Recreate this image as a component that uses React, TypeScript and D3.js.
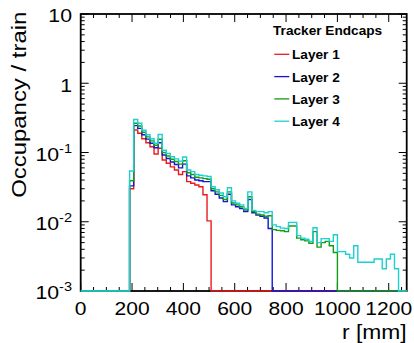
import React from "react";
import * as d3 from "d3";

const W = 414;
const H = 343;

// Histogram binning (r in mm)
const X_MIN = 0;
const X_MAX = 1270;
const BIN_WIDTH = 15.875;
const FIRST_EDGE = 190.5;

const xTickLabels = [0, 200, 400, 600, 800, 1000, 1200];
const yTickValues = [10, 1, 0.1, 0.01, 0.001];
const yTickExps = ["", "", "-1", "-2", "-3"];
const yTickBases = ["10", "1", "10", "10", "10"];

const layerNames = ["Layer 1", "Layer 2", "Layer 3", "Layer 4"];
const layerColors = ["#ea1b1b", "#1414d6", "#159c15", "#1fd0d0"];

const layer1 = [
  0.030, 0.211, 0.19, 0.158, 0.138, 0.121, 0.095, 0.115, 0.078, 0.070,
  0.062, 0.056, 0.048, 0.053, 0.038, 0.036, 0.034, 0.032, 0.0245, 0.0103,
];
const layer2 = [
  0.033, 0.244, 0.223, 0.18, 0.156, 0.136, 0.117, 0.138, 0.092, 0.082,
  0.073, 0.067, 0.060, 0.068, 0.046, 0.043, 0.040, 0.039, 0.038, 0.038,
  0.028, 0.025, 0.022, 0.0195, 0.025, 0.0175, 0.0165, 0.0155, 0.014, 0.021,
  0.0135, 0.0125, 0.012, 0.0113, 0.0080,
];
const layer3 = [
  0.039, 0.264, 0.241, 0.196, 0.168, 0.147, 0.127, 0.155, 0.100, 0.089,
  0.080, 0.074, 0.068, 0.076, 0.051, 0.048, 0.044, 0.043, 0.042, 0.041,
  0.030, 0.027, 0.024, 0.021, 0.027, 0.0187, 0.0175, 0.0165, 0.0148, 0.023,
  0.014, 0.0129, 0.0125, 0.012, 0.0122, 0.0077, 0.0075, 0.0074, 0.0072, 0.0087,
  0.0087, 0.0058, 0.0055, 0.0053, 0.0049, 0.0072, 0.0043, 0.0050, 0.0052, 0.0045,
  0.0036,
];
const layer4 = [
  0.054, 0.30, 0.265, 0.21, 0.18, 0.158, 0.136, 0.182, 0.108, 0.097,
  0.087, 0.081, 0.075, 0.086, 0.056, 0.053, 0.048, 0.047, 0.046, 0.045,
  0.032, 0.029, 0.026, 0.023, 0.031, 0.020, 0.0185, 0.0175, 0.0156, 0.027,
  0.0146, 0.014, 0.014, 0.0135, 0.014, 0.0090, 0.0085, 0.0081, 0.0080, 0.0098,
  0.0098, 0.0063, 0.0058, 0.0056, 0.0052, 0.0082, 0.0050, 0.0057, 0.0057, 0.0052,
  0.0065, 0.0037, 0.0037, 0.0034, 0.0030, 0.0045, 0.0026, 0.0026, 0.0026, 0.0026,
  0.0029, 0.0029, 0.0021, 0.0029, 0.0034, 0.0021,
];
const layers = [layer1, layer2, layer3, layer4];

const Y_MIN = 1e-3;
const Y_MAX = 10;

const PL = 80.7;
const PR = 406.7;
const PT = 14;
const PB = 291;

const FONT = "'Liberation Sans', Arial, Helvetica, sans-serif";

function Txt(props: {
  x: number;
  y: number;
  sx?: number;
  rotate?: number;
  size: number;
  anchor?: string;
  bold?: boolean;
  children: React.ReactNode;
}) {
  const { x, y, sx = 1, rotate = 0, size, anchor = "start", bold } = props;
  return (
    <g transform={`translate(${x},${y}) rotate(${rotate}) scale(${sx},1)`}>
      <text
        x={0}
        y={0}
        fontSize={size}
        textAnchor={anchor}
        fontWeight={bold ? "bold" : "normal"}
        fill="#000"
      >
        {props.children}
      </text>
    </g>
  );
}

export default function App() {
  const x = d3.scaleLinear().domain([X_MIN, X_MAX]).range([PL, PR]);
  const y = d3.scaleLog().domain([Y_MIN, Y_MAX]).range([PB, PT]);

  const line = d3
    .line<[number, number]>()
    .x((d) => x(d[0]))
    .y((d) => y(Math.max(d[1], Y_MIN)));

  const paths = layers.map((vals) => {
    const pts: [number, number][] = [[X_MIN, Y_MIN], [FIRST_EDGE, Y_MIN]];
    vals.forEach((v, i) => {
      const a = FIRST_EDGE + i * BIN_WIDTH;
      pts.push([a, v]);
      pts.push([a + BIN_WIDTH, v]);
    });
    const end = FIRST_EDGE + vals.length * BIN_WIDTH;
    pts.push([end, Y_MIN]);
    pts.push([X_MAX, Y_MIN]);
    return line(pts) || "";
  });

  const xMajor = d3.range(0, X_MAX + 1, 200);
  const xMinor = d3.range(0, X_MAX + 1, 50).filter((v) => v % 200 !== 0);
  const yMajor = yTickValues;
  const yMinor: number[] = [];
  for (let e = -3; e < 1; e++) {
    for (let k = 2; k <= 9; k++) yMinor.push(k * Math.pow(10, e));
  }

  const majLen = 8;
  const minLen = 4;

  return (
    <svg
      width={W}
      height={H}
      style={{ position: "absolute", left: 0, top: 0, background: "#fff" }}
      fontFamily={FONT}
    >
      <rect x={0} y={0} width={W} height={H} fill="#fff" />
      {/* ticks */}
      <g stroke="#000" strokeWidth={1}>
        {xMajor.map((v) => (
          <g key={"xM" + v}>
            <line x1={x(v)} x2={x(v)} y1={PB} y2={PB - majLen} />
            <line x1={x(v)} x2={x(v)} y1={PT} y2={PT + majLen} />
          </g>
        ))}
        {xMinor.map((v) => (
          <g key={"xm" + v}>
            <line x1={x(v)} x2={x(v)} y1={PB} y2={PB - minLen} />
            <line x1={x(v)} x2={x(v)} y1={PT} y2={PT + minLen} />
          </g>
        ))}
        {yMajor.map((v) => (
          <g key={"yM" + v}>
            <line x1={PL} x2={PL + majLen} y1={y(v)} y2={y(v)} />
            <line x1={PR} x2={PR - majLen} y1={y(v)} y2={y(v)} />
          </g>
        ))}
        {yMinor.map((v) => (
          <g key={"ym" + v}>
            <line x1={PL} x2={PL + minLen} y1={y(v)} y2={y(v)} />
            <line x1={PR} x2={PR - minLen} y1={y(v)} y2={y(v)} />
          </g>
        ))}
      </g>
      <rect
        x={PL}
        y={PT}
        width={PR - PL}
        height={PB - PT}
        fill="none"
        stroke="#000"
        strokeWidth={1.8}
      />
      {/* histograms */}
      {paths.map((p, i) => (
        <path key={i} d={p} fill="none" stroke={layerColors[i]} strokeWidth={1.4} />
      ))}
      {/* x tick labels */}
      {xTickLabels.map((v) => (
        <Txt key={"xl" + v} x={x(v)} y={315} size={18} sx={1.17} anchor="middle">
          {v}
        </Txt>
      ))}
      {/* y tick labels */}
      {yMajor.map((v, i) => (
        <Txt key={"yl" + v} x={72} y={y(v) + 8.3} size={19} sx={1.12} anchor="end">
          {yTickBases[i]}
          {yTickExps[i] && (
            <tspan fontSize={13} dy={-8}>
              {yTickExps[i]}
            </tspan>
          )}
        </Txt>
      ))}
      {/* axis titles */}
      <Txt x={PR} y={339} size={19.5} sx={1.17} anchor="end">
        r [mm]
      </Txt>
      <Txt x={25.5} y={11.7} rotate={-90} size={21} sx={1.14} anchor="end">
        Occupancy / train
      </Txt>
      {/* legend */}
      <Txt x={273} y={35} size={13} sx={1.05} bold>
        Tracker Endcaps
      </Txt>
      {layerNames.map((name, i) => {
        const ly = 54.3 + i * 22.3;
        return (
          <g key={name}>
            <line x1={274.3} x2={289.3} y1={ly} y2={ly} stroke={layerColors[i]} strokeWidth={1.3} />
            <Txt x={292} y={ly + 5} size={13} sx={1.05} bold>
              {name}
            </Txt>
          </g>
        );
      })}
    </svg>
  );
}
